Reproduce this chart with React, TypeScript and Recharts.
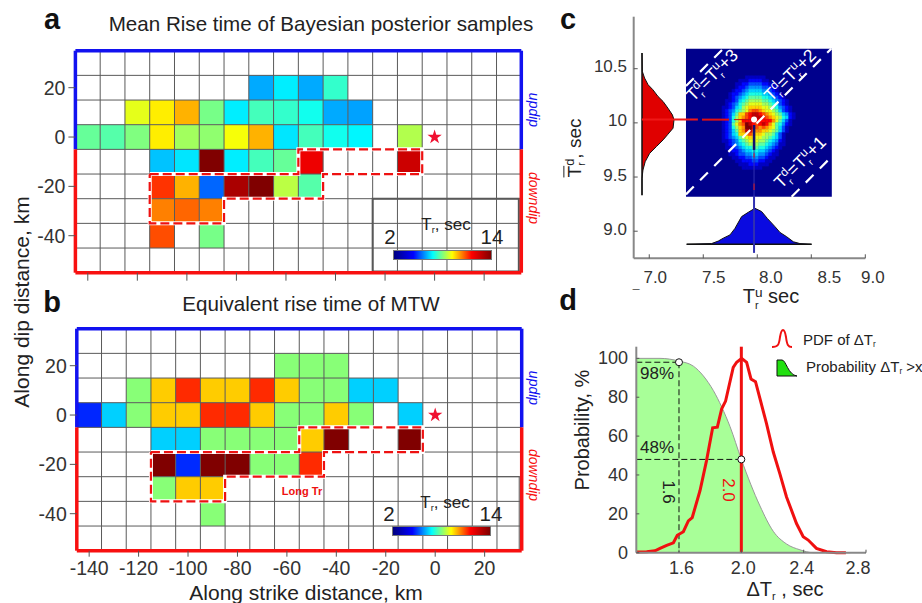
import React from 'react';
import { Area, ComposedChart, Line, ReferenceArea, ReferenceDot, ReferenceLine, Scatter, XAxis, YAxis } from 'recharts';

const FONT = '"Liberation Sans", Arial, sans-serif';
const _ = null;

// panels a and b: Tr per 10 km cell
const strikeCenters = [-140, -130, -120, -110, -100, -90, -80, -70, -60, -50, -40, -30, -20, -10, 0, 10, 20, 30];
const dipCenters = [20, 10, 0, -10, -20, -30, -40];
const strikeTicks = [-140, -120, -100, -80, -60, -40, -20, 0, 20];
const dipTicks = [20, 0, -20, -40];
const gridStrike = [-135, -125, -115, -105, -95, -85, -75, -65, -55, -45, -35, -25, -15, -5, 5, 15, 25];
const gridDip = [25, 15, 5, -5, -15, -25, -35, -45];

const meanRise = [
  [_, _, _, _, _, _, _, 5.5, 6.3, 5.5, 7.1, _, _, _, _, _, _, _],
  [_, _, 9.2, 9.7, 10.4, 7.9, 6.3, 7.3, 7.1, 6.7, 5.5, 5.4, _, _, _, _, _, _],
  [7.7, 7.5, 8.0, 9.7, 8.4, 8.2, 9.4, 10.4, 6.2, 7.3, 6.7, 6.4, _, 8.6, _, _, _, _],
  [_, _, _, 5.8, 6.2, 14, 6.3, 7.3, 7.7, 12.7, _, _, _, 13.1, _, _, _, _],
  [_, _, _, 11.9, 10.4, 4.7, 13.5, 14, 8.7, 7.5, _, _, _, _, _, _, _, _],
  [_, _, _, 11, 11.3, 11, _, _, _, _, _, _, _, _, _, _, _, _],
  [_, _, _, 11.6, _, 7.9, _, _, _, _, _, _, _, _, _, _, _, _],
];

const mtwRise = [
  [_, _, _, _, _, _, _, _, 8.1, 8.1, 8.1, _, _, _, _, _, _, _],
  [_, _, 8.1, 10.1, 12, 10.1, 10.1, 12, 10.1, 8.1, 8.1, 5.95, 5.95, _, _, _, _, _],
  [3.95, 5.95, 8.1, 10.1, 10.1, 12, 12, 10.1, 8.1, 8.1, 10.1, 8.1, _, 5.95, _, _, _, _],
  [_, _, _, 5.95, 5.95, 8.1, 8.1, 8.1, 8.1, 10.1, 14, _, _, 14, _, _, _, _],
  [_, _, _, 14, 4, 14, 14, 8.1, 8.1, 12, _, _, _, _, _, _, _, _],
  [_, _, _, 8.1, 10.1, 10.1, _, _, _, _, _, _, _, _, _, _, _, _],
  [_, _, _, _, _, 8.1, _, _, _, _, _, _, _, _, _, _, _, _],
];

const longTrOutline = [
  { x: -115, y: -15 }, { x: -55, y: -15 }, { x: -55, y: -5 }, { x: -5, y: -5 }, { x: -5, y: -15 },
  { x: -45, y: -15 }, { x: -45, y: -25 }, { x: -85, y: -25 }, { x: -85, y: -35 }, { x: -115, y: -35 }, { x: -115, y: -15 },
];
const hypocenter = [{ x: 0, y: 0 }];

// panel c: 2D histogram of posterior samples, one hex level per cell
const heatRows = [
  '00000000001111110000000000',
  '00000000111222211000000000',
  '00000001122333322110000000',
  '00000001223444433211000000',
  '00000012234555544321000000',
  '00000122345666655432100000',
  '00000123456777766543210000',
  '00001123567888877654321000',
  '00001234678999988765321000',
  '00011235689aaaa99876432100',
  '00012346789bccba9987532100',
  '00012357aacdeedcba98754210',
  '00012368abcdeeedcba9865210',
  '00012368adddddddddb9753100',
  '00012379bcfedcdedb97642100',
  '00012368abffdcbcba97531000',
  '00012357abeecbbaa987531000',
  '00012356aabcbaa98875310000',
  '00012345789aa9988765310000',
  '00011234678999887654210000',
  '00001234567888776543110000',
  '00001123456677665432100000',
  '00000122345566554321000000',
  '00000112334455443211000000',
  '00000011223344332110000000',
  '00000001122233221100000000',
  '00000000111222111000000000',
  '00000000011111100000000000',
];
const heatStartU = 7.58;
const heatStartD = 10.435;
const heatStep = 0.0309;
const riseUTicks = [7, 7.5, 8, 8.5, 9];
const riseDTicks = [9, 9.5, 10, 10.5];
const riseULabelShift: Record<number, number> = { 7: 6, 7.5: 10.5, 8: 13.5, 8.5: 18, 9: 7.5 };
const offsets = [1, 2, 3];
const posteriorMean = [{ x: 7.97, y: 10.03 }];

const downDip = [
  { td: 10.645, p: 0 }, { td: 10.475, p: 0.01 }, { td: 10.414, p: 0.08 }, { td: 10.352, p: 0.19 }, { td: 10.306, p: 0.34 },
  { td: 10.244, p: 0.5 }, { td: 10.197, p: 0.66 }, { td: 10.136, p: 0.81 }, { td: 10.074, p: 0.95 }, { td: 10.028, p: 1 },
  { td: 9.951, p: 0.97 }, { td: 9.895, p: 0.81 }, { td: 9.843, p: 0.66 }, { td: 9.781, p: 0.45 }, { td: 9.719, p: 0.24 },
  { td: 9.642, p: 0.1 }, { td: 9.565, p: 0.03 }, { td: 9.488, p: 0 }, { td: 9.333, p: 0 },
];
const upDip = [
  { tu: 7.346, p: 0 }, { tu: 7.577, p: 0.02 }, { tu: 7.639, p: 0.09 }, { tu: 7.685, p: 0.17 }, { tu: 7.747, p: 0.26 },
  { tu: 7.793, p: 0.44 }, { tu: 7.855, p: 0.77 }, { tu: 7.917, p: 0.89 }, { tu: 7.978, p: 1 }, { tu: 8.04, p: 0.91 },
  { tu: 8.093, p: 0.72 }, { tu: 8.164, p: 0.49 }, { tu: 8.21, p: 0.33 }, { tu: 8.272, p: 0.21 }, { tu: 8.334, p: 0.07 },
  { tu: 8.395, p: 0.02 }, { tu: 8.503, p: 0 },
];

// panel d
const survival = [
  { x: 1.326, y: 100 }, { x: 1.478, y: 100 }, { x: 1.6, y: 98.6 }, { x: 1.692, y: 96 }, { x: 1.756, y: 91 }, { x: 1.82, y: 83.5 },
  { x: 1.874, y: 75 }, { x: 1.927, y: 65 }, { x: 2.0, y: 48 }, { x: 2.12, y: 24 }, { x: 2.205, y: 11 }, { x: 2.29, y: 4.5 },
  { x: 2.376, y: 1.5 }, { x: 2.462, y: 0 }, { x: 2.7, y: 0 },
];
const pdf = [
  { x: 1.326, y: 0.3 }, { x: 1.393, y: 0.5 }, { x: 1.446, y: 1 }, { x: 1.478, y: 2.2 }, { x: 1.521, y: 3.8 }, { x: 1.564, y: 5.1 },
  { x: 1.589, y: 9 }, { x: 1.628, y: 10.8 }, { x: 1.66, y: 16.4 }, { x: 1.685, y: 18.1 }, { x: 1.735, y: 32 }, { x: 1.777, y: 47.5 },
  { x: 1.816, y: 64.3 }, { x: 1.846, y: 64.6 }, { x: 1.874, y: 74 }, { x: 1.899, y: 78 }, { x: 1.948, y: 95.4 }, { x: 1.97, y: 98 },
  { x: 2.002, y: 100 }, { x: 2.034, y: 98 }, { x: 2.062, y: 89.4 }, { x: 2.091, y: 88 }, { x: 2.162, y: 66.3 }, { x: 2.205, y: 51.8 },
  { x: 2.247, y: 40.7 }, { x: 2.29, y: 28.7 }, { x: 2.354, y: 15 }, { x: 2.397, y: 8.2 }, { x: 2.429, y: 6.5 }, { x: 2.482, y: 2.2 },
  { x: 2.547, y: 0.5 }, { x: 2.611, y: 0 }, { x: 2.671, y: 0 },
];
const probXTicks = [1.6, 2, 2.4, 2.8];
const probYTicks = [0, 20, 40, 60, 80, 100];
const probXShift: Record<number, number> = { 1.6: 2.5, 2: 2, 2.4: -2, 2.8: -8 };

function jet(t: number) {
  const c = (v: number) => Math.round(255 * Math.max(0, Math.min(1, v)));
  const r = t < 0.875 ? (t - 0.375) / 0.25 : 1 - (t - 0.875) * 4;
  const g = t < 0.375 ? (t - 0.125) / 0.25 : (0.875 - t) / 0.25;
  const b = t < 0.125 ? 0.5 + t * 4 : (0.625 - t) / 0.25;
  return `rgb(${c(r)},${c(g)},${c(b)})`;
}
const jetGradient = `linear-gradient(to right, ${[0, 0.125, 0.375, 0.625, 0.875, 1].map(jet).join(', ')})`;

// full page svg, margins put the plot area at an exact spot
function box(l: number, t: number, r: number, b: number) {
  return { left: l, top: t, right: 922 - r, bottom: 603 - b };
}
function withAxes(l: number, t: number, r: number, b: number) {
  return { left: l - 40, top: t, right: 922 - r, bottom: 603 - b - 30 };
}

function Layer({ children }: { children: React.ReactNode }) {
  return <div style={{ position: 'absolute', left: 0, top: 0, width: 922, height: 603 }}>{children}</div>;
}

function Txt({ x, y, size = 18, rot = 0, color = '#222', weight = 400, start = false, italic = false, children }: any) {
  return (
    <div
      style={{
        position: 'absolute', left: x, top: y, fontFamily: FONT, fontSize: size, color, fontWeight: weight,
        fontStyle: italic ? 'italic' : 'normal', whiteSpace: 'nowrap', lineHeight: 1,
        transform: `translate(${start ? '0' : '-50%'}, -50%) rotate(${rot}deg)`,
      }}
    >
      {children}
    </div>
  );
}

const Sub = ({ children }: any) => <span style={{ fontSize: '0.55em', verticalAlign: '-0.35em', lineHeight: 0 }}>{children}</span>;
// stacked super and sub script after a T
const Scripts = ({ s }: any) => (
  <span style={{ display: 'inline-flex', flexDirection: 'column', verticalAlign: 'middle', lineHeight: 1, fontSize: '0.68em', textAlign: 'left' }}>
    <span>{s}</span>
    <span style={{ fontSize: '0.8em' }}>r</span>
  </span>
);

function xTick(shift: Record<number, number>, inward: number, outward: number, labelY: number, size: number, fmt: (v: number) => string, showText = true) {
  return ({ x, y, payload }: any) => (
    <g>
      <line x1={x} x2={x} y1={y - inward} y2={y + outward} stroke="#555" strokeWidth={1} />
      {showText && (
        <text x={x + (shift[payload.value] || 0)} y={labelY} textAnchor="middle" dominantBaseline="central" fontFamily={FONT} fontSize={size} fill="#333">
          {fmt(payload.value)}
        </text>
      )}
    </g>
  );
}
function yTick(inward: number, outward: number, labelX: number, size: number, fmt: (v: number) => string, dy = 0) {
  return ({ x, y, payload }: any) => (
    <g>
      <line x1={x - outward} x2={x + inward} y1={y} y2={y} stroke="#555" strokeWidth={1} />
      <text x={labelX} y={y + dy} textAnchor="end" dominantBaseline="central" fontFamily={FONT} fontSize={size} fill="#333">
        {fmt(payload.value)}
      </text>
    </g>
  );
}

function SlipMap({ rows, plot, legendStroke, legendWidth, showXLabels }: any) {
  const [l, t, r, b] = plot;
  const strikeLabel = showXLabels ? 568 : 0;
  return (
    <ComposedChart width={922} height={603} margin={withAxes(l, t, r, b)} style={{ position: 'absolute' }}>
      <XAxis
        type="number" dataKey="x" domain={[-145, 35]} ticks={strikeTicks} interval={0} axisLine={false}
        tickLine={false} tickSize={0} tickMargin={0} height={30}
        tick={xTick({}, 0, showXLabels ? 6 : 8, strikeLabel, 19.5, (v) => String(v), showXLabels) as any}
      />
      <YAxis
        type="number" dataKey="y" domain={[-55, 35]} ticks={dipTicks} interval={0} axisLine={false}
        tickLine={false} tickSize={0} tickMargin={0} width={40}
        tick={yTick(0, 7, l - 10, 19.5, (v) => String(v)) as any}
      />
      {rows.flatMap((row: (number | null)[], ri: number) =>
        row.map((v, ci) =>
          v === null ? null : (
            <ReferenceArea
              key={`${ri}-${ci}`}
              x1={strikeCenters[ci] - 5} x2={strikeCenters[ci] + 5}
              y1={dipCenters[ri] - 5} y2={dipCenters[ri] + 5}
              fill={jet((v - 2) / 12)} fillOpacity={1} stroke="none"
            />
          ),
        ),
      )}
      {gridStrike.map((g) => <ReferenceLine key={`gx${g}`} x={g} stroke="#5a5a5a" strokeWidth={1} />)}
      {gridDip.map((g) => <ReferenceLine key={`gy${g}`} y={g} stroke="#5a5a5a" strokeWidth={1} />)}
      <ReferenceArea x1={-25} x2={34} y1={-54.5} y2={-25} fill="#fff" fillOpacity={1} stroke={legendStroke} strokeWidth={legendWidth} />
      <ReferenceLine segment={[{ x: -145, y: -5 }, { x: -145, y: 35 }]} stroke="#1212f0" strokeWidth={3.5} />
      <ReferenceLine segment={[{ x: -145, y: 35 }, { x: 35, y: 35 }]} stroke="#1212f0" strokeWidth={3.5} />
      <ReferenceLine segment={[{ x: 35, y: 35 }, { x: 35, y: -5 }]} stroke="#1212f0" strokeWidth={3.5} />
      <ReferenceLine segment={[{ x: -145, y: -5 }, { x: -145, y: -55 }]} stroke="#f81010" strokeWidth={3.5} />
      <ReferenceLine segment={[{ x: -145, y: -55 }, { x: 35, y: -55 }]} stroke="#f81010" strokeWidth={3.5} />
      <ReferenceLine segment={[{ x: 35, y: -5 }, { x: 35, y: -55 }]} stroke="#f81010" strokeWidth={3.5} />
      <Line data={longTrOutline} dataKey="y" stroke="#fff" strokeWidth={4} dot={false} isAnimationActive={false} legendType="none" />
      <Line data={longTrOutline} dataKey="y" stroke="#ee1111" strokeWidth={2.2} strokeDasharray="9 4" dot={false} isAnimationActive={false} legendType="none" />
      <Scatter data={hypocenter} dataKey="y" shape="star" fill="#f01030" isAnimationActive={false} legendType="none" />
    </ComposedChart>
  );
}

function Marginals() {
  return (
    <>
      <Layer>
        <ComposedChart width={922} height={603} layout="vertical" margin={box(642, 16.7, 674, 258.3)} data={downDip}>
          <XAxis type="number" domain={[0, 1]} hide />
          <YAxis type="number" dataKey="td" domain={[8.75, 10.98]} reversed hide />
          <Area dataKey="p" type="linear" fill="#e00000" fillOpacity={1} stroke="#111" strokeWidth={1} isAnimationActive={false} />
          <ReferenceLine segment={[{ x: 0, y: 10.645 }, { x: 0, y: 9.333 }]} stroke="#111" strokeWidth={1.5} />
        </ComposedChart>
      </Layer>
      <Layer>
        <ComposedChart width={922} height={603} margin={box(633.7, 208.3, 865.3, 244.3)} data={upDip}>
          <XAxis type="number" dataKey="tu" domain={[6.856, 9]} hide />
          <YAxis type="number" domain={[0, 1]} hide />
          <Area dataKey="p" type="linear" fill="#0a0ae0" fillOpacity={1} stroke="#111" strokeWidth={1} isAnimationActive={false} />
          <ReferenceLine segment={[{ x: 7.346, y: 0 }, { x: 8.503, y: 0 }]} stroke="#111" strokeWidth={1.5} />
        </ComposedChart>
      </Layer>
    </>
  );
}

function PosteriorPanel() {
  return (
    <Layer>
      <ComposedChart width={922} height={603} margin={withAxes(633.7, 16.7, 865.3, 258.3)}>
        <XAxis
          type="number" dataKey="x" domain={[6.856, 9]} ticks={riseUTicks} interval={0} tickLine={false} tickSize={0} tickMargin={0}
          axisLine={{ stroke: '#888', strokeWidth: 2 }} height={30}
          tick={xTick(riseULabelShift, 4, 0, 277, 17, (v) => v.toFixed(1)) as any}
        />
        <YAxis
          type="number" dataKey="y" domain={[8.75, 10.98]} ticks={riseDTicks} interval={0} tickLine={false} tickSize={0} tickMargin={0}
          axisLine={{ stroke: '#888', strokeWidth: 2 }} width={40}
          tick={yTick(4, 0, 627, 17, (v) => (v === 10 ? '10' : v.toFixed(1)), -2) as any}
        />
        <ReferenceArea x1={7.34} x2={8.69} y1={9.318} y2={10.685} fill="#00008c" fillOpacity={1} stroke="none" />
        {heatRows.flatMap((row, ri) =>
          row.split('').map((ch, ci) => {
            const level = parseInt(ch, 16);
            if (!level) return null;
            const u = heatStartU + ci * heatStep;
            const d = heatStartD - ri * heatStep;
            return (
              <ReferenceArea
                key={`${ri}-${ci}`} x1={u} x2={u + heatStep} y1={d - heatStep} y2={d}
                fill={jet(level / 15)} fillOpacity={1} stroke={jet(level / 15)} strokeWidth={0.4}
              />
            );
          }),
        )}
        {offsets.map((o) => {
          const u0 = Math.max(7.34, 9.318 - o);
          const u1 = Math.min(8.69, 10.685 - o);
          return (
            <ReferenceLine
              key={o} segment={[{ x: u0, y: u0 + o }, { x: u1, y: u1 + o }]}
              stroke="#fff" strokeWidth={2.2} strokeDasharray="11 9"
            />
          );
        })}
        <ReferenceLine segment={[{ x: 6.932, y: 10.03 }, { x: 7.45, y: 10.03 }]} stroke="#f01818" strokeWidth={2} />
        <ReferenceLine segment={[{ x: 7.488, y: 10.03 }, { x: 7.738, y: 10.03 }]} stroke="#e01010" strokeWidth={2} />
        <ReferenceLine segment={[{ x: 7.784, y: 10.03 }, { x: 7.97, y: 10.03 }]} stroke="#c01010" strokeWidth={1} />
        <ReferenceLine segment={[{ x: 7.97, y: 9.98 }, { x: 7.97, y: 9.75 }]} stroke="#101070" strokeWidth={2.5} />
        <ReferenceLine segment={[{ x: 7.97, y: 9.75 }, { x: 7.97, y: 9.33 }]} stroke="#3030b0" strokeWidth={1} />
        <ReferenceLine segment={[{ x: 7.97, y: 9.72 }, { x: 7.97, y: 9.68 }]} stroke="#e01818" strokeWidth={1} />
        <ReferenceLine segment={[{ x: 7.97, y: 9.44 }, { x: 7.97, y: 9.38 }]} stroke="#e01818" strokeWidth={1} />
        <ReferenceLine segment={[{ x: 7.97, y: 9.33 }, { x: 7.97, y: 8.8 }]} stroke="#3030b0" strokeWidth={2} />
        <Line data={posteriorMean} dataKey="y" stroke="none" dot={false} isAnimationActive={false} legendType="none" />
      </ComposedChart>
    </Layer>
  );
}

function ProbabilityPanel() {
  return (
    <Layer>
      <ComposedChart width={922} height={603} margin={withAxes(636.3, 346.7, 866, 552.7)}>
        <XAxis
          type="number" dataKey="x" domain={[1.326, 2.8]} ticks={probXTicks} interval={0} tickLine={false} tickSize={0} tickMargin={0}
          axisLine={{ stroke: '#888', strokeWidth: 2 }} height={30}
          tick={xTick(probXShift, 3, 0, 568, 18, (v) => v.toFixed(1)) as any}
        />
        <YAxis
          type="number" dataKey="y" domain={[0, 106]} ticks={probYTicks} interval={0} tickLine={false} tickSize={0} tickMargin={0}
          axisLine={{ stroke: '#888', strokeWidth: 2 }} width={40}
          tick={yTick(3, 0, 628, 18, (v) => String(v)) as any}
        />
        <Area data={survival} dataKey="y" type="monotone" fill="#a8ff98" fillOpacity={1} stroke="#999" strokeWidth={1} isAnimationActive={false} />
        <ReferenceLine segment={[{ x: 1.326, y: 98 }, { x: 1.6, y: 98 }]} stroke="#111" strokeWidth={1} strokeDasharray="6 3" />
        <ReferenceLine segment={[{ x: 1.6, y: 98 }, { x: 1.6, y: 0 }]} stroke="#111" strokeWidth={1} strokeDasharray="6 3" />
        <ReferenceLine segment={[{ x: 1.326, y: 48 }, { x: 2, y: 48 }]} stroke="#111" strokeWidth={1} strokeDasharray="6 3" />
        <Line data={pdf} dataKey="y" type="linear" stroke="#f01010" strokeWidth={3} dot={false} isAnimationActive={false} />
        <ReferenceLine segment={[{ x: 2, y: 0 }, { x: 2, y: 106 }]} stroke="#f01010" strokeWidth={3} />
        <ReferenceDot x={1.6} y={98} r={3.5} fill="#fff" stroke="#111" strokeWidth={1} />
        <ReferenceDot x={2} y={48} r={3.5} fill="#fff" stroke="#111" strokeWidth={1} />
      </ComposedChart>
    </Layer>
  );
}

function Colorbar({ x, y, w, h }: any) {
  return <div style={{ position: 'absolute', left: x, top: y, width: w, height: h, background: jetGradient, border: '1px solid #777', boxSizing: 'border-box' }} />;
}

export default function App() {
  return (
    <div style={{ position: 'absolute', left: 0, top: 0, width: 922, height: 603, overflow: 'hidden', background: '#fff' }}>
      <Layer><SlipMap rows={meanRise} plot={[75.4, 50.7, 521.3, 272.7]} legendStroke="#555" legendWidth={2} showXLabels={false} /></Layer>
      <Layer><SlipMap rows={mtwRise} plot={[76.8, 328.7, 521.7, 550.7]} legendStroke="#555" legendWidth={1} showXLabels /></Layer>
      <Marginals />
      <PosteriorPanel />
      <ProbabilityPanel />

      <Txt x={52} y={19} size={29} weight={700} color="#111">a</Txt>
      <Txt x={52} y={302} size={29} weight={700} color="#111">b</Txt>
      <Txt x={568} y={19} size={29} weight={700} color="#111">c</Txt>
      <Txt x={568} y={300} size={29} weight={700} color="#111">d</Txt>
      <Txt x={321} y={24} size={20.6}>Mean Rise time of Bayesian posterior samples</Txt>
      <Txt x={311} y={304} size={20.6}>Equivalent rise time of MTW</Txt>
      <Txt x={21} y={302} size={21} rot={-90}>Along dip distance, km</Txt>
      <Txt x={306} y={592} size={21}>Along strike distance, km</Txt>

      <Txt x={534} y={110} size={14} rot={90} italic color="#1212f0">updip</Txt>
      <Txt x={534} y={198} size={14} rot={90} italic color="#f81010">downdip</Txt>
      <Txt x={534} y={388} size={14} rot={90} italic color="#1212f0">updip</Txt>
      <Txt x={534} y={475} size={14} rot={90} italic color="#f81010">downdip</Txt>

      <Txt x={446} y={224} size={17}>T<Sub>r</Sub>, sec</Txt>
      <Txt x={390} y={237} size={20.5}>2</Txt>
      <Txt x={492} y={237} size={20.5}>14</Txt>
      <Colorbar x={393} y={250} w={99} h={10} />
      <Txt x={445} y={502} size={17}>T<Sub>r</Sub>, sec</Txt>
      <Txt x={389} y={514} size={20.5}>2</Txt>
      <Txt x={491} y={514} size={20.5}>14</Txt>
      <Colorbar x={392} y={526} w={99} h={10} />
      <Txt x={302} y={491} size={11} weight={700} color="#ee1111">Long Tr</Txt>

      <Txt x={713} y={76} size={17.5} rot={-45} color="#fff">T<Scripts s="d" />=T<Scripts s="u" />+3</Txt>
      <Txt x={791} y={76} size={17.5} rot={-45} color="#fff">T<Scripts s="d" />=T<Scripts s="u" />+2</Txt>
      <Txt x={801} y={163} size={17.5} rot={-45} color="#fff">T<Scripts s="d" />=T<Scripts s="u" />+1</Txt>
      <Txt x={576} y={148} size={19} rot={-90}><span style={{ textDecoration: 'overline' }}>T</span><Scripts s="d" />, sec</Txt>
      <Txt x={771} y={298} size={20}>T<Scripts s="u" /> sec</Txt>
      <Txt x={636} y={283} size={12} color="#555">_</Txt>

      <Txt x={582} y={430} size={20} rot={-90}>Probability, %</Txt>
      <Txt x={785} y={589} size={20}>ΔT<Sub>r</Sub> , sec</Txt>
      <Txt x={657} y={373} size={17}>98%</Txt>
      <Txt x={657} y={447} size={17}>48%</Txt>
      <Txt x={668} y={492} size={17} rot={90}>1.6</Txt>
      <Txt x={728} y={490} size={17} rot={90} color="#ee1111">2.0</Txt>
      <Txt x={803} y={339} size={15} start>PDF of ΔT<Sub>r</Sub></Txt>
      <Txt x={806} y={366} size={15} start>Probability ΔT<Sub>r</Sub> &gt;x</Txt>
      <svg style={{ position: 'absolute', left: 768, top: 325, overflow: 'visible' }} width={34} height={54}>
        <path d="M4 22 C10 22 11 20 12 12 C13 6 14 5 15 5 C16 5 17 6 18 12 C19 20 20 22 24 22" fill="none" stroke="#f01010" strokeWidth={2} />
        <path d="M9 51 L9 35 L14 35 C18 35 20 50 29 51 Z" fill="#22e010" stroke="none" />
        <path d="M9 51 L9 35 L14 35 C18 35 20 50 29 51 M9 51 L29 51" fill="none" stroke="#111" strokeWidth={1} />
      </svg>
    </div>
  );
}
